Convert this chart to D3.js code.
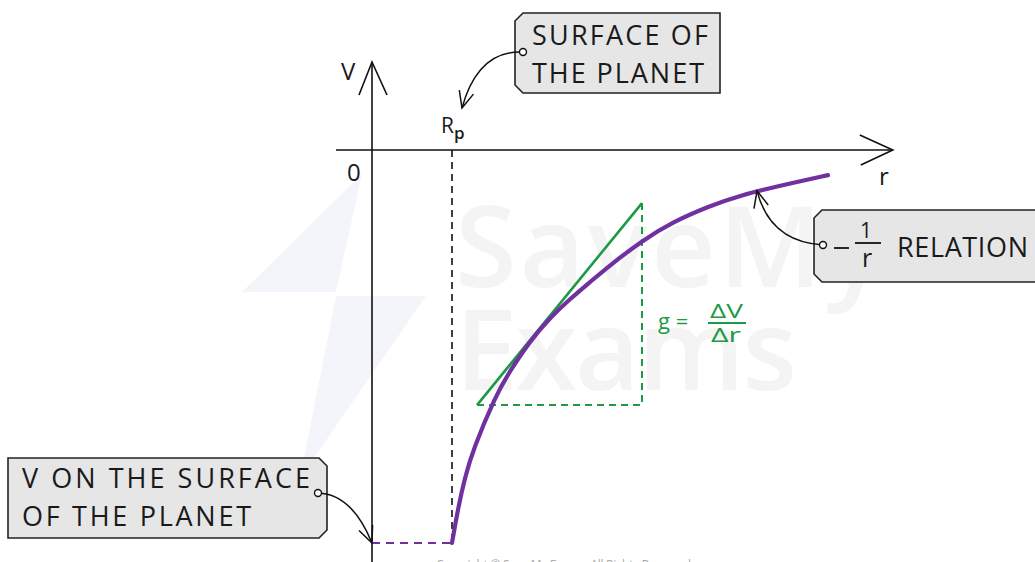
<html>
<script src="https://cdnjs.cloudflare.com/ajax/libs/d3/7.8.5/d3.min.js"></script>
<style>
body { margin: 0; background: #fff; }
text { font-family: "Open Sans", "DejaVu Sans", sans-serif; fill: #1a1a1a; }
</style>
<body>
<svg width="1035" height="562"></svg>
<script>
// r in units of the planet radius, V in units of |V| at the surface
var curveR = [1.0, 1.079, 1.163, 1.263, 1.538, 1.725, 1.975, 2.225, 2.475, 2.725, 2.975, 3.388, 3.763, 4.188, 4.6, 5.225, 5.7];
var curveV = [-1.0, -0.908, -0.832, -0.763, -0.628, -0.562, -0.486, -0.427, -0.379, -0.336, -0.293, -0.229, -0.183, -0.145, -0.115, -0.085, -0.064];
var tangentR = [1.3125, 3.375];
var tangentV = [-0.649, -0.135];
var surfaceR = 1.0;
var surfaceV = -1.0;
var relationR = 4.813, relationV = -0.104;

var purple = "#7030a0", green = "#1e9a45";

var svg = d3.select("svg");

var x = d3.scaleLinear().domain([0, 1]).range([372, 452]);
var y = d3.scaleLinear().domain([0, -1]).range([150, 543]);

// watermark
var wm = svg.append("g");
wm.append("path")
  .attr("d", "M362,174 L242,292 L336,292 Z M336,296 L426,296 L300,478 Z")
  .attr("fill", "#f4f5fa");
wm.append("text").attr("x", 455).attr("y", 287).attr("font-size", 112).attr("font-weight", 600)
  .style("fill", "#f4f4f4").attr("textLength", 430).text("SaveMy");
wm.append("text").attr("x", 455).attr("y", 390).attr("font-size", 112).attr("font-weight", 600)
  .style("fill", "#f4f4f4").attr("textLength", 342).text("Exams");
svg.append("text").attr("x", 436).attr("y", 569).attr("font-size", 12)
  .style("fill", "#aaa").attr("textLength", 255).text("Copyright © Save My Exams. All Rights Reserved");

// axes
var ax = svg.append("g").attr("stroke", "#111").attr("stroke-width", 1.6).attr("fill", "none");
ax.append("line").attr("x1", x(0)).attr("x2", x(0)).attr("y1", 562).attr("y2", y(0.224));
ax.append("path").attr("d", d3.line()([[x(0) - 13, y(0.224) + 33], [x(0), y(0.224)], [x(0) + 15, y(0.224) + 33]]));
ax.append("line").attr("x1", x(-0.45)).attr("x2", x(6.51)).attr("y1", y(0)).attr("y2", y(0));
ax.append("path").attr("d", d3.line()([[x(6.51) - 33, y(0) - 15], [x(6.51), y(0)], [x(6.51) - 32, y(0) + 15]]));

svg.append("text").attr("x", 341).attr("y", 80).attr("font-size", 24).text("V");
svg.append("text").attr("x", 347).attr("y", 181).attr("font-size", 24).text("0");
svg.append("text").attr("x", 879).attr("y", 185).attr("font-size", 24).text("r");
var rp = svg.append("text").attr("x", 441).attr("y", 133).attr("font-size", 21);
rp.append("tspan").text("R");
rp.append("tspan").attr("font-size", 17).attr("font-weight", 600).attr("dy", 6).text("p");

// surface guides
svg.append("line").attr("x1", x(surfaceR)).attr("x2", x(surfaceR)).attr("y1", y(0)).attr("y2", y(surfaceV))
  .attr("stroke", "#111").attr("stroke-width", 1.6).attr("stroke-dasharray", "7,5");
svg.append("line").attr("x1", x(0)).attr("x2", x(surfaceR)).attr("y1", y(surfaceV)).attr("y2", y(surfaceV))
  .attr("stroke", purple).attr("stroke-width", 2).attr("stroke-dasharray", "8,6");

// tangent triangle
var g0 = [x(tangentR[0]), y(tangentV[0])], g1 = [x(tangentR[1]), y(tangentV[1])];
svg.append("line").attr("x1", g0[0]).attr("y1", g0[1]).attr("x2", g1[0]).attr("y2", g1[1])
  .attr("stroke", green).attr("stroke-width", 2.6);
svg.append("path").attr("d", d3.line()([g0, [g1[0], g0[1]], g1]))
  .attr("fill", "none").attr("stroke", green).attr("stroke-width", 2).attr("stroke-dasharray", "7,5");

// curve
var pts = curveR.map(function(r, i) { return [x(r), y(curveV[i])]; });
svg.append("path").attr("d", d3.line().curve(d3.curveBasis)(pts))
  .attr("fill", "none").attr("stroke", purple).attr("stroke-width", 4.2).attr("stroke-linecap", "round");

// g = dV/dr
svg.append("text").attr("x", 658).attr("y", 329).attr("font-size", 22).style("fill", green).text("g =");
svg.append("text").attr("x", 710).attr("y", 318).attr("font-size", 20).attr("textLength", 33)
  .attr("lengthAdjust", "spacingAndGlyphs").style("fill", green).text("ΔV");
svg.append("text").attr("x", 711).attr("y", 342).attr("font-size", 20).attr("textLength", 30)
  .attr("lengthAdjust", "spacingAndGlyphs").style("fill", green).text("Δr");
svg.append("line").attr("x1", 708).attr("x2", 746).attr("y1", 323).attr("y2", 323)
  .attr("stroke", green).attr("stroke-width", 2);

// label boxes
function tag(x0, y0, x1, y1, side) {
  var c = 8;
  if (side == "left")
    return "M" + (x0 + c) + "," + y0 + "L" + x1 + "," + y0 + "L" + x1 + "," + y1 + "L" + (x0 + c) + "," + y1 +
      "L" + x0 + "," + (y1 - c) + "L" + x0 + "," + (y0 + c) + "Z";
  return "M" + x0 + "," + y0 + "L" + (x1 - c) + "," + y0 + "L" + x1 + "," + (y0 + c) + "L" + x1 + "," + (y1 - c) +
    "L" + (x1 - c) + "," + y1 + "L" + x0 + "," + y1 + "Z";
}
function arrow(from, ctrl, tip) {
  svg.append("path").attr("d", "M" + from + "Q" + ctrl + " " + tip)
    .attr("fill", "none").attr("stroke", "#111").attr("stroke-width", 1.5);
  var dx = ctrl[0] - tip[0], dy = ctrl[1] - tip[1], l = Math.sqrt(dx * dx + dy * dy);
  dx /= l; dy /= l;
  var a = 0.42, L = 18;
  var b1 = [tip[0] + L * (dx * Math.cos(a) - dy * Math.sin(a)), tip[1] + L * (dx * Math.sin(a) + dy * Math.cos(a))];
  var b2 = [tip[0] + L * (dx * Math.cos(-a) - dy * Math.sin(-a)), tip[1] + L * (dx * Math.sin(-a) + dy * Math.cos(-a))];
  svg.append("path").attr("d", d3.line()([b1, tip, b2]))
    .attr("fill", "none").attr("stroke", "#111").attr("stroke-width", 1.5);
  svg.append("circle").attr("cx", from[0]).attr("cy", from[1]).attr("r", 3.5)
    .attr("fill", "#fff").attr("stroke", "#111").attr("stroke-width", 1.4);
}
var boxStyle = function(p) { p.attr("fill", "#e6e6e6").attr("stroke", "#222").attr("stroke-width", 1.6); };

svg.append("path").attr("d", tag(515, 13, 720, 93, "left")).call(boxStyle);
svg.append("text").attr("x", 532).attr("y", 45).attr("font-size", 27).attr("textLength", 176).text("SURFACE OF");
svg.append("text").attr("x", 532).attr("y", 83).attr("font-size", 27).attr("textLength", 172).text("THE PLANET");
arrow([523, 52], [478, 50], [x(surfaceR) + 10, 108]);

svg.append("path").attr("d", tag(814, 210, 1045, 282, "left")).call(boxStyle);
svg.append("text").attr("x", 897).attr("y", 257).attr("font-size", 27).attr("textLength", 131).text("RELATION");
svg.append("line").attr("x1", 834).attr("x2", 849).attr("y1", 248).attr("y2", 248).attr("stroke", "#111").attr("stroke-width", 1.8);
svg.append("line").attr("x1", 855).attr("x2", 881).attr("y1", 243).attr("y2", 243).attr("stroke", "#111").attr("stroke-width", 1.8);
svg.append("text").attr("x", 860).attr("y", 238).attr("font-size", 21).text("1");
svg.append("text").attr("x", 862).attr("y", 267).attr("font-size", 25).text("r");
arrow([823, 245], [770, 242], [x(relationR), y(relationV)]);

svg.append("path").attr("d", tag(8, 458, 327, 538, "right")).call(boxStyle);
svg.append("text").attr("x", 22).attr("y", 488).attr("font-size", 27).attr("textLength", 288).text("V ON THE SURFACE");
svg.append("text").attr("x", 22).attr("y", 526).attr("font-size", 27).attr("textLength", 229).text("OF THE PLANET");
arrow([318, 493], [352, 494], [x(0), y(surfaceV)]);
</script>
</body>
</html>
